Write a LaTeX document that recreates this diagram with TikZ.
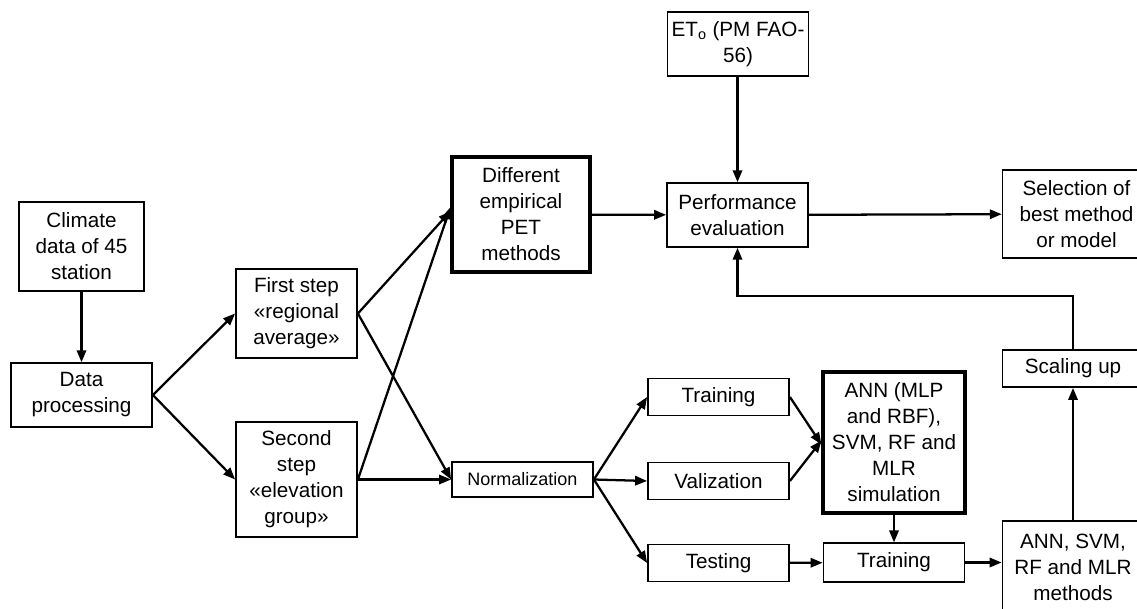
\documentclass[tikz,border=0pt]{standalone}
\usepackage{fontspec}
\setmainfont{Liberation Sans}
\usepackage{tikz}
\usetikzlibrary{arrows.meta}

\tikzset{
  box/.style={draw, line width=1.1pt, align=center, inner sep=0pt,
    font=\fontsize{15.5}{19.5}\selectfont},
  bigbox/.style={box, line width=2.8pt},
  arr/.style={line width=1.7pt, -{Triangle[length=9pt,width=7pt]}}
}

\begin{document}
\begin{tikzpicture}[x=0.75pt,y=0.75pt,yscale=-1,xscale=1]

    \useasboundingbox (0,0) rectangle (1137,609);
    \clip (0,0) rectangle (1137,609);

    % left column
    \node [box, minimum width=94pt, minimum height=67pt] (clim) at (81.5,246.5) {Climate\\data of 45\\station};
    \node [box, minimum width=106pt, minimum height=48pt] (proc) at (81.5,395) {Data\\processing};
    \node [box, minimum width=91pt, minimum height=67pt] (first) at (296.5,313.5) {First step\\«regional\\average»};
    \node [box, minimum width=91pt, minimum height=86pt] (second) at (296.5,479.5) {Second\\step\\«elevation\\group»};

    % upper branch
    \node [bigbox, minimum width=103pt, minimum height=86pt] (pet) at (521,214.5) {Different\\empirical\\PET\\methods};
    \node [box, minimum width=106pt, minimum height=48pt] (eto) at (738,44) {ET\textsubscript{o} (PM FAO-\\56)};
    \node [box, minimum width=106pt, minimum height=48pt] (perf) at (737.5,215) {Performance\\evaluation};
    \node [box, minimum width=111pt, minimum height=66pt] (sel) at (1076.5,214) {Selection of\\best method\\or model};

    % lower branch
    \node [box, minimum width=106pt, minimum height=26pt, font=\fontsize{13.5}{16}\selectfont] (norm) at (522.5,479.5) {Normalization};
    \node [box, minimum width=106pt, minimum height=28pt] (train) at (718.5,397) {Training};
    \node [box, minimum width=106pt, minimum height=28pt] (valid) at (718.5,481) {Valization};
    \node [box, minimum width=106pt, minimum height=28pt] (test) at (718.5,563) {Testing};
    \node [bigbox, minimum width=106pt, minimum height=106pt] (sim) at (894,442.5) {ANN (MLP\\and RBF),\\SVM, RF and\\MLR\\simulation};
    \node [box, minimum width=106pt, minimum height=29pt] (train2) at (894,562.5) {Training};
    \node [box, minimum width=106pt, minimum height=69pt] (meth) at (1073,567) {ANN, SVM,\\RF and MLR\\methods};
    \node [box, minimum width=106pt, minimum height=28pt] (scale) at (1073,368.5) {Scaling up};

    % connectors
    \draw [arr] (clim) -- (proc);
    \draw [arr] (proc.east) -- (first.west);
    \draw [arr] (proc.east) -- (second.west);
    \draw [arr] (first.east) -- ([yshift=-2.5pt]pet.west);
    \draw [arr] (second.east) -- ([yshift=-5.5pt]pet.west);
    \draw [arr] (first.east) -- (norm.west);
    \draw [arr] (second.east) -- (norm.west);
    \draw [arr] (pet) -- (perf);
    \draw [arr] (eto.south -| perf.north) -- (perf.north);
    \draw [arr] (perf) -- (sel);

    \draw [arr] (norm.east) -- (train.west);
    \draw [arr] (norm.east) -- (valid.west);
    \draw [arr] (norm.east) -- (test.west);
    \draw [arr] (train.east) -- ([yshift=1.5pt]sim.west);
    \draw [arr] (valid.east) -- ([yshift=-1.5pt]sim.west);
    \draw [arr] (test) -- (train2);
    \draw [arr] (sim) -- (train2);
    \draw [arr] (train2.east) -- (train2.east -| meth.west);
    \draw [arr] (meth) -- (scale);
    \draw [arr] (scale.north) -- ++(0,-53) -| (perf.south);

\end{tikzpicture}
\end{document}
